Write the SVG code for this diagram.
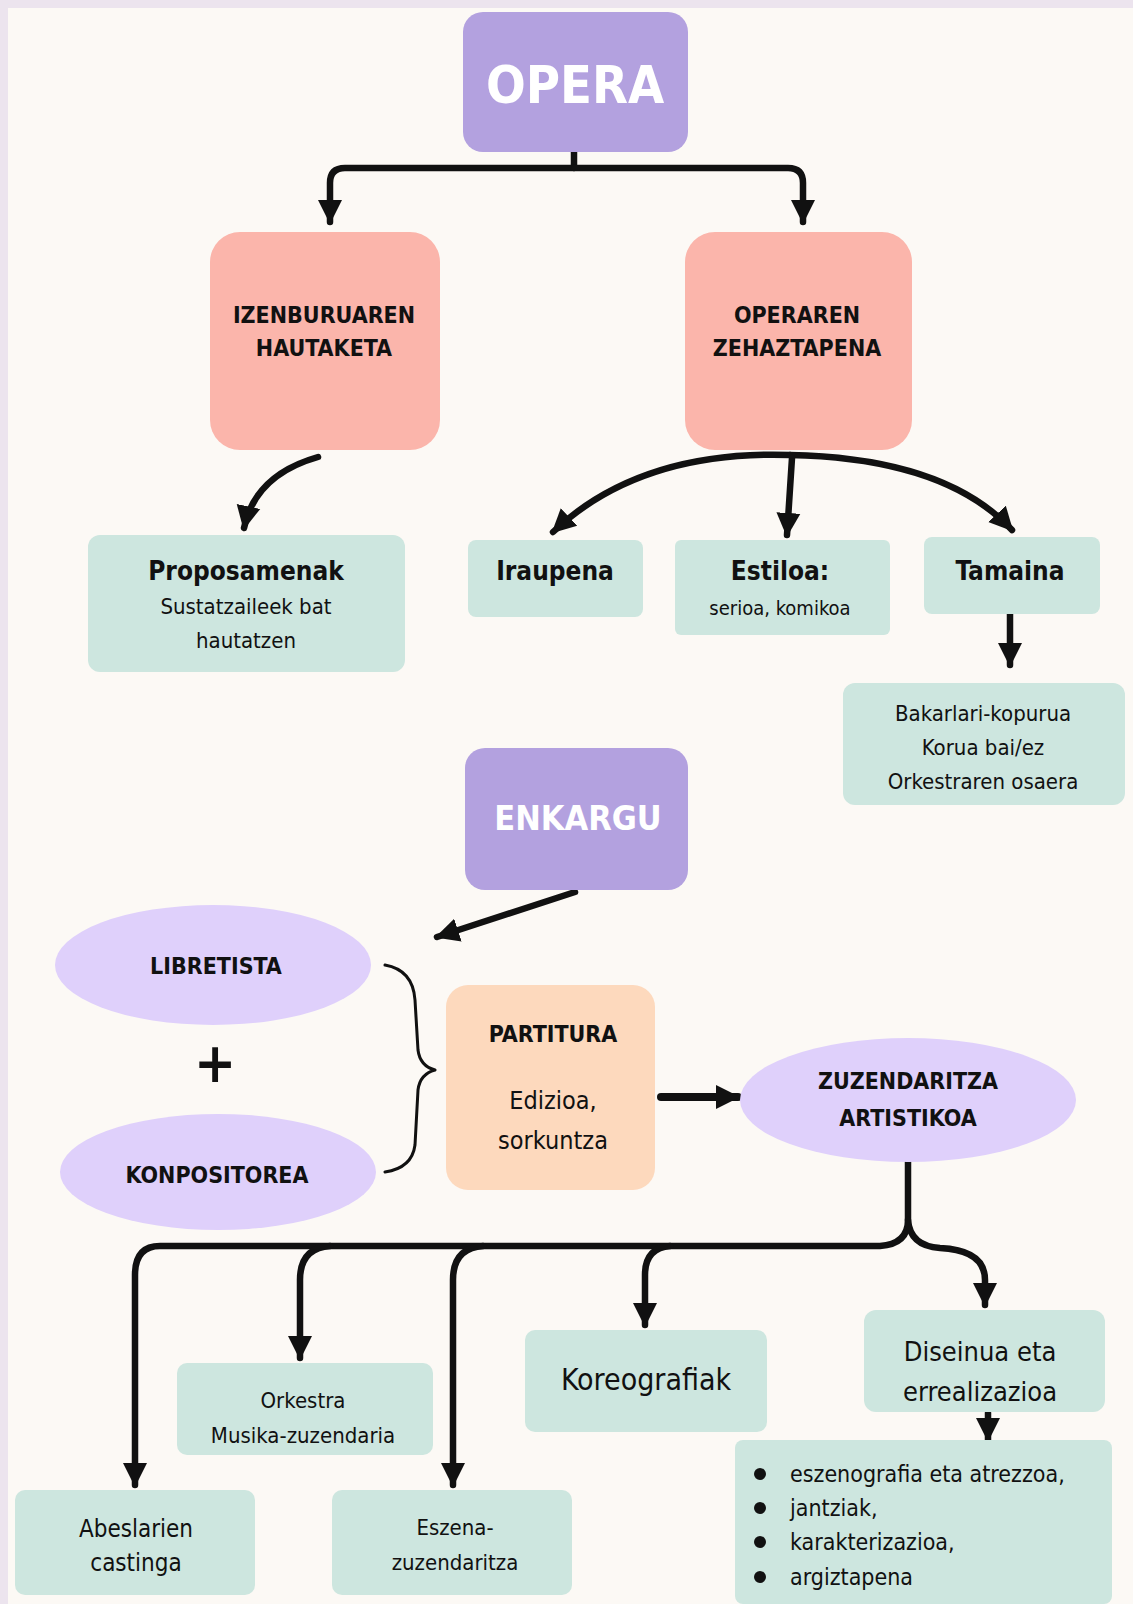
<svg xmlns="http://www.w3.org/2000/svg" width="1133" height="1604" viewBox="0 0 1133 1604">
<defs>
<marker id="ah" markerUnits="userSpaceOnUse" markerWidth="26" markerHeight="26" viewBox="0 0 26 26" refX="22" refY="13" orient="auto">
<path d="M0,1 L24,13 L0,25 Z" fill="#111"/>
</marker>
</defs>
<style>
.bg{fill:#fcf9f5}
.purple{fill:#b3a1df}
.salmon{fill:#fbb5ab}
.mint{fill:#cde6df}
.lav{fill:#dfd0fb}
.peach{fill:#fdd9bd}
.ln{fill:none;stroke:#111;stroke-width:6.5;stroke-linecap:round;stroke-linejoin:round}
text{font-family:"DejaVu Sans Condensed","DejaVu Sans",sans-serif;fill:#111;text-anchor:middle}
.w{fill:#fff;font-weight:bold}
.h{font-weight:bold;font-size:23px}
.t{font-size:22px}
.s{font-size:20px}
.b{font-size:26px;font-weight:bold}
</style>
<rect width="1133" height="1604" fill="#ece4ee"/>
<rect class="bg" x="8" y="8" width="1125" height="1596"/>

<g id="connectors">
<path class="ln" d="M574,152 V168 M574,168 H345 Q330,168 330,183 V222" marker-end="url(#ah)"/>
<path class="ln" d="M574,168 H788 Q803,168 803,183 V222" marker-end="url(#ah)"/>
<path class="ln" d="M318,457 Q255,475 244,528" marker-end="url(#ah)"/>
<path class="ln" d="M790,455 Q640,450 553,532" marker-end="url(#ah)"/>
<path class="ln" d="M790,455 Q945,458 1012,530" marker-end="url(#ah)"/>
<path class="ln" d="M792,458 L787,535" marker-end="url(#ah)"/>
<path class="ln" d="M1010,610 V665" marker-end="url(#ah)"/>
<path class="ln" d="M575,892 L437,937" marker-end="url(#ah)"/>
<path class="ln" d="M385,965 Q413,970 415,1000 L418,1050 Q420,1066 435,1070 Q420,1074 418,1090 L415,1145 Q412,1168 385,1172" style="stroke-width:3"/>
<path class="ln" d="M661,1097 H738" marker-end="url(#ah)" style="stroke-width:8"/>
<path class="ln" d="M908,1162 V1220 Q908,1244 880,1246 H160 Q135,1246 135,1275 V1485" marker-end="url(#ah)"/>
<path class="ln" d="M908,1220 Q910,1246 940,1248 Q985,1250 985,1280 V1305" marker-end="url(#ah)"/>
<path class="ln" d="M330,1246 Q300,1248 300,1280 V1358" marker-end="url(#ah)"/>
<path class="ln" d="M483,1246 Q453,1248 453,1280 V1485" marker-end="url(#ah)"/>
<path class="ln" d="M670,1246 Q645,1248 645,1275 V1325" marker-end="url(#ah)"/>
<path class="ln" d="M988,1413 V1440" marker-end="url(#ah)"/>
</g>

<g id="opera">
<rect class="purple" x="463" y="12" width="225" height="140" rx="20"/>
<text class="w" x="575" y="103" font-size="52">OPERA</text>
</g>
<g id="izenburuaren">
<rect class="salmon" x="210" y="232" width="230" height="218" rx="30"/>
<text class="h" x="324" y="323">IZENBURUAREN</text>
<text class="h" x="324" y="356">HAUTAKETA</text>
</g>
<g id="operaren">
<rect class="salmon" x="685" y="232" width="227" height="218" rx="30"/>
<text class="h" x="797" y="323">OPERAREN</text>
<text class="h" x="797" y="356">ZEHAZTAPENA</text>
</g>
<g id="proposamenak">
<rect class="mint" x="88" y="535" width="317" height="137" rx="12"/>
<text class="b" x="246" y="580">Proposamenak</text>
<text class="t" x="246" y="614">Sustatzaileek bat</text>
<text class="t" x="246" y="648">hautatzen</text>
</g>
<g id="iraupena">
<rect class="mint" x="468" y="540" width="175" height="77" rx="8"/>
<text class="b" x="555" y="580">Iraupena</text>
</g>
<g id="estiloa">
<rect class="mint" x="675" y="540" width="215" height="95" rx="6"/>
<text class="b" x="780" y="580">Estiloa:</text>
<text class="s" x="780" y="615">serioa, komikoa</text>
</g>
<g id="tamaina">
<rect class="mint" x="924" y="537" width="176" height="77" rx="8"/>
<text class="b" x="1010" y="580">Tamaina</text>
</g>
<g id="bakarlari">
<rect class="mint" x="843" y="683" width="282" height="122" rx="12"/>
<text class="t" x="983" y="721">Bakarlari-kopurua</text>
<text class="t" x="983" y="755">Korua bai/ez</text>
<text class="t" x="983" y="789">Orkestraren osaera</text>
</g>
<g id="enkargu">
<rect class="purple" x="465" y="748" width="223" height="142" rx="20"/>
<text class="w" x="578" y="830" font-size="34">ENKARGU</text>
</g>
<g id="libretista">
<ellipse class="lav" cx="213" cy="965" rx="158" ry="60"/>
<text class="h" x="216" y="974" font-size="26">LIBRETISTA</text>
</g>
<text x="215" y="1082" font-size="56" font-weight="bold">+</text>
<g id="konpositorea">
<ellipse class="lav" cx="218" cy="1172" rx="158" ry="58"/>
<text class="h" x="217" y="1183" font-size="26">KONPOSITOREA</text>
</g>
<g id="partitura">
<rect class="peach" x="446" y="985" width="209" height="205" rx="22"/>
<text class="h" x="553" y="1042" font-size="25">PARTITURA</text>
<text x="553" y="1109" font-size="25">Edizioa,</text>
<text x="553" y="1149" font-size="25">sorkuntza</text>
</g>
<g id="zuzendaritza">
<ellipse class="lav" cx="908" cy="1100" rx="168" ry="62"/>
<text class="h" x="908" y="1089">ZUZENDARITZA</text>
<text class="h" x="908" y="1126">ARTISTIKOA</text>
</g>
<g id="orkestra">
<rect class="mint" x="177" y="1363" width="256" height="92" rx="10"/>
<text class="t" x="303" y="1408">Orkestra</text>
<text class="t" x="303" y="1443">Musika-zuzendaria</text>
</g>
<g id="koreografiak">
<rect class="mint" x="525" y="1330" width="242" height="102" rx="10"/>
<text x="646" y="1390" font-size="30">Koreografiak</text>
</g>
<g id="diseinua">
<rect class="mint" x="864" y="1310" width="241" height="102" rx="12"/>
<text x="980" y="1361" font-size="27">Diseinua eta</text>
<text x="980" y="1401" font-size="27">errealizazioa</text>
</g>
<g id="abeslarien">
<rect class="mint" x="15" y="1490" width="240" height="105" rx="10"/>
<text x="136" y="1537" font-size="24">Abeslarien</text>
<text x="136" y="1571" font-size="24">castinga</text>
</g>
<g id="eszena">
<rect class="mint" x="332" y="1490" width="240" height="105" rx="10"/>
<text x="455" y="1535" font-size="22">Eszena-</text>
<text x="455" y="1570" font-size="22">zuzendaritza</text>
</g>
<g id="zerrenda">
<rect class="mint" x="735" y="1440" width="377" height="164" rx="8"/>
<circle cx="760" cy="1474" r="6" fill="#111"/>
<circle cx="760" cy="1508" r="6" fill="#111"/>
<circle cx="760" cy="1542" r="6" fill="#111"/>
<circle cx="760" cy="1577" r="6" fill="#111"/>
<text x="790" y="1482" font-size="23" style="text-anchor:start">eszenografia eta atrezzoa,</text>
<text x="790" y="1516" font-size="23" style="text-anchor:start">jantziak,</text>
<text x="790" y="1550" font-size="23" style="text-anchor:start">karakterizazioa,</text>
<text x="790" y="1585" font-size="23" style="text-anchor:start">argiztapena</text>
</g>
</svg>
